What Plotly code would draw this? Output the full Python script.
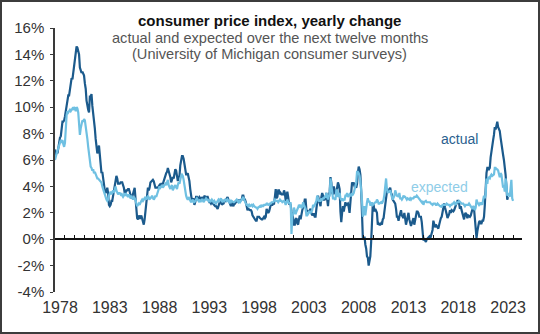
import plotly.graph_objects as go

# Monthly series, starting January 1978 (percent, year-over-year)
start_year = 1978

cpi_actual = [
    6.8, 6.4, 6.6, 6.5, 6.9, 7.4, 7.7, 7.8, 8.3, 8.9, 8.9, 9.0,          # 1978
    9.3, 9.9, 10.1, 10.5, 10.9, 10.9, 11.3, 11.8, 12.2, 12.1, 12.6, 13.3,  # 1979
    13.9, 14.2, 14.6, 14.5, 14.2, 14.0, 13.0, 12.8, 12.6, 12.7, 12.5, 12.4,  # 1980
    11.8, 11.4, 10.5, 10.0, 9.8, 9.6, 10.8, 10.8, 11.0, 10.1, 9.6, 8.9,  # 1981
    8.4, 7.6, 6.8, 6.5, 6.7, 7.1, 6.4, 5.9, 5.0, 5.1, 4.6, 3.8,          # 1982
    3.7, 3.5, 3.6, 3.9, 3.5, 2.6, 2.5, 2.6, 2.9, 2.9, 3.3, 3.8,          # 1983
    4.2, 4.6, 4.8, 4.6, 4.2, 4.2, 4.2, 4.3, 4.3, 4.3, 4.1, 3.9,          # 1984
    3.5, 3.5, 3.7, 3.7, 3.8, 3.8, 3.6, 3.3, 3.1, 3.2, 3.5, 3.8,          # 1985
    3.9, 3.1, 2.2, 1.6, 1.5, 1.8, 1.6, 1.6, 1.8, 1.5, 1.3, 1.1,          # 1986
    1.5, 2.1, 3.0, 3.8, 3.9, 3.7, 3.9, 4.3, 4.4, 4.5, 4.5, 4.4,          # 1987
    4.0, 3.9, 3.9, 3.9, 3.9, 4.0, 4.1, 4.0, 4.2, 4.2, 4.2, 4.4,          # 1988
    4.7, 4.8, 5.0, 5.1, 5.4, 5.2, 5.0, 4.7, 4.3, 4.5, 4.7, 4.6,          # 1989
    5.2, 5.3, 5.2, 4.7, 4.4, 4.7, 4.8, 5.6, 6.2, 6.3, 6.3, 6.1,          # 1990
    5.7, 5.3, 4.9, 4.9, 5.0, 4.7, 4.4, 3.8, 3.4, 2.9, 3.0, 3.1,          # 1991
    2.6, 2.8, 3.2, 3.2, 3.0, 3.1, 3.2, 3.1, 3.0, 3.2, 3.0, 2.9,          # 1992
    3.3, 3.2, 3.1, 3.2, 3.2, 3.0, 2.8, 2.8, 2.7, 2.8, 2.7, 2.7,          # 1993
    2.5, 2.5, 2.5, 2.4, 2.3, 2.5, 2.8, 2.9, 3.0, 2.6, 2.7, 2.7,          # 1994
    2.8, 2.9, 2.9, 3.1, 3.2, 3.0, 2.8, 2.6, 2.5, 2.8, 2.6, 2.5,          # 1995
    2.7, 2.7, 2.8, 2.9, 2.9, 2.8, 3.0, 2.9, 3.0, 3.0, 3.3, 3.3,          # 1996
    3.0, 3.0, 2.8, 2.5, 2.2, 2.3, 2.2, 2.2, 2.2, 2.1, 1.8, 1.7,          # 1997
    1.6, 1.4, 1.4, 1.4, 1.7, 1.7, 1.7, 1.6, 1.5, 1.5, 1.5, 1.6,          # 1998
    1.7, 1.6, 1.7, 2.3, 2.1, 2.0, 2.1, 2.3, 2.6, 2.6, 2.6, 2.7,          # 1999
    2.7, 3.2, 3.8, 3.1, 3.2, 3.7, 3.7, 3.4, 3.5, 3.4, 3.4, 3.4,          # 2000
    3.7, 3.5, 2.9, 3.3, 3.6, 3.2, 2.7, 2.7, 2.6, 2.1, 1.9, 1.6,          # 2001
    1.1, 1.1, 1.5, 1.6, 1.2, 1.1, 1.5, 1.8, 1.5, 2.0, 2.2, 2.4,          # 2002
    2.6, 3.0, 3.0, 2.2, 2.1, 2.1, 2.1, 2.2, 2.3, 2.0, 1.8, 1.9,          # 2003
    1.9, 1.7, 1.7, 2.3, 3.1, 3.3, 3.0, 2.7, 2.5, 3.2, 3.5, 3.3,          # 2004
    3.0, 3.0, 3.1, 3.5, 2.8, 2.5, 3.2, 3.6, 4.7, 4.3, 3.5, 3.4,          # 2005
    4.0, 3.6, 3.4, 3.5, 4.2, 4.3, 4.1, 3.8, 2.1, 1.3, 2.0, 2.5,          # 2006
    2.1, 2.4, 2.8, 2.6, 2.7, 2.7, 2.4, 2.0, 2.8, 3.5, 4.3, 4.1,          # 2007
    4.3, 4.0, 4.0, 3.9, 4.2, 5.0, 5.5, 5.3, 4.9, 3.7, 1.1, 0.1,          # 2008
    0.0, 0.2, -0.4, -0.7, -1.3, -1.4, -2.0, -1.5, -1.3, -0.2, 1.8, 2.7,  # 2009
    2.6, 2.1, 2.3, 2.2, 2.0, 1.1, 1.2, 1.1, 1.1, 1.2, 1.1, 1.5,          # 2010
    1.6, 2.1, 2.7, 3.2, 3.6, 3.6, 3.6, 3.8, 3.9, 3.5, 3.4, 3.0,          # 2011
    2.9, 2.9, 2.7, 2.3, 1.7, 1.7, 1.4, 1.7, 2.0, 2.2, 1.8, 1.7,          # 2012
    1.6, 2.0, 1.5, 1.1, 1.4, 1.8, 2.0, 1.5, 1.2, 1.0, 1.2, 1.5,          # 2013
    1.6, 1.1, 1.5, 2.0, 2.1, 2.1, 2.0, 1.7, 1.7, 1.7, 1.3, 0.8,          # 2014
    -0.1, 0.0, -0.1, -0.2, 0.0, 0.1, 0.2, 0.2, 0.0, 0.2, 0.5, 0.7,       # 2015
    1.4, 1.0, 0.9, 1.1, 1.0, 1.0, 0.8, 1.1, 1.5, 1.6, 1.7, 2.1,          # 2016
    2.5, 2.7, 2.4, 2.2, 1.9, 1.6, 1.7, 1.9, 2.2, 2.0, 2.2, 2.1,          # 2017
    2.1, 2.2, 2.4, 2.5, 2.8, 2.9, 2.9, 2.7, 2.3, 2.5, 2.2, 1.9,          # 2018
    1.6, 1.5, 1.9, 2.0, 1.8, 1.6, 1.8, 1.7, 1.7, 1.8, 2.1, 2.3,          # 2019
    2.5, 2.3, 1.5, 0.3, 0.1, 0.6, 1.0, 1.3, 1.4, 1.2, 1.2, 1.4,          # 2020
    1.4, 1.7, 2.6, 4.2, 5.0, 5.4, 5.4, 5.3, 5.4, 6.2, 6.8, 7.0,          # 2021
    7.5, 7.9, 8.5, 8.3, 8.6, 8.9, 8.5, 8.3, 8.2, 7.7, 7.1, 6.5,          # 2022
    6.4, 6.0, 5.0, 4.9, 4.0, 3.0, 3.2,                                   # 2023
]

expected = [
    6.0, 6.4, 6.5, 6.7, 6.9, 7.0, 7.3, 7.5, 7.4, 7.5, 7.2, 7.0,          # 1978
    7.3, 8.6, 9.4, 9.7, 9.6, 9.7, 9.8, 9.7, 9.8, 9.9, 9.8, 10.0,         # 1979
    9.9, 9.7, 10.0, 9.9, 9.6, 8.3, 7.9, 8.4, 8.8, 9.0, 8.9, 9.1,         # 1980
    9.0, 8.6, 8.3, 7.6, 7.0, 6.4, 5.8, 5.5, 5.4, 5.2, 5.3, 5.0,          # 1981
    5.1, 4.9, 4.7, 4.6, 4.6, 4.5, 4.5, 4.4, 4.3, 4.0, 3.8, 3.5,          # 1982
    3.4, 3.2, 3.0, 2.9, 3.0, 3.3, 3.5, 3.6, 3.4, 3.6, 3.7, 3.5,          # 1983
    3.9, 4.0, 3.7, 3.6, 3.4, 3.5, 3.5, 3.4, 3.5, 3.3, 3.2, 3.3,          # 1984
    3.5, 3.3, 3.4, 3.3, 3.2, 3.4, 3.2, 3.1, 3.3, 3.1, 3.0, 3.2,          # 1985
    3.1, 3.0, 2.7, 2.5, 2.6, 2.7, 2.6, 2.8, 2.9, 3.0, 2.9, 3.0,          # 1986
    3.1, 3.2, 3.0, 3.1, 3.3, 3.1, 3.0, 3.2, 3.1, 3.3, 3.2, 3.0,          # 1987
    3.1, 3.3, 3.2, 3.4, 3.6, 3.8, 4.0, 3.9, 4.0, 4.1, 3.9, 4.0,          # 1988
    4.0, 4.2, 4.1, 4.3, 4.5, 4.1, 3.9, 3.8, 4.0, 4.1, 3.7, 3.9,          # 1989
    4.0, 4.1, 3.9, 3.8, 4.1, 4.3, 4.2, 4.6, 4.8, 4.9, 4.8, 4.5,          # 1990
    4.0, 3.6, 3.3, 3.1, 3.0, 3.2, 3.1, 2.9, 2.8, 2.9, 3.0, 2.8,          # 1991
    2.8, 2.9, 3.0, 3.1, 3.0, 2.9, 2.8, 3.0, 2.9, 3.0, 3.0, 2.8,          # 1992
    2.9, 3.0, 3.1, 3.0, 3.0, 2.9, 3.0, 2.8, 2.9, 3.0, 2.9, 2.8,          # 1993
    2.9, 2.8, 2.7, 2.8, 2.9, 3.0, 2.9, 3.0, 3.1, 2.9, 2.8, 3.0,          # 1994
    2.9, 3.0, 3.0, 2.9, 3.0, 2.9, 2.8, 2.9, 2.8, 2.9, 2.8, 2.8,          # 1995
    2.8, 2.9, 2.9, 3.0, 2.9, 2.8, 2.9, 2.8, 2.9, 3.0, 3.1, 3.2,          # 1996
    3.0, 2.8, 2.7, 2.6, 2.6, 2.5, 2.6, 2.5, 2.6, 2.6, 2.5, 2.6,          # 1997
    2.5, 2.4, 2.4, 2.4, 2.3, 2.4, 2.5, 2.5, 2.4, 2.6, 2.5, 2.5,          # 1998
    2.6, 2.6, 2.6, 2.7, 2.7, 2.6, 2.6, 2.7, 2.7, 2.8, 2.8, 2.8,          # 1999
    2.9, 3.0, 2.9, 2.9, 2.9, 2.8, 2.9, 3.0, 2.9, 2.9, 2.8, 2.9,          # 2000
    2.9, 2.8, 2.6, 2.8, 3.0, 2.8, 2.7, 2.7, 2.8, 0.4, 1.8, 1.9,          # 2001
    2.4, 2.0, 1.9, 2.1, 2.2, 2.4, 2.6, 2.5, 2.6, 2.4, 2.4, 2.8,          # 2002
    2.6, 2.5, 2.3, 1.8, 1.8, 1.9, 2.1, 2.1, 2.0, 2.1, 2.2, 2.6,          # 2003
    2.5, 2.6, 2.8, 2.9, 3.3, 3.1, 2.9, 2.9, 2.9, 3.1, 3.0, 3.1,          # 2004
    3.1, 3.2, 3.2, 3.5, 3.1, 3.0, 3.3, 3.3, 4.6, 4.0, 3.4, 3.1,          # 2005
    3.1, 3.0, 3.0, 3.7, 3.7, 3.2, 3.4, 3.5, 3.1, 3.0, 3.1, 2.9,          # 2006
    3.0, 3.0, 3.3, 3.3, 3.5, 3.2, 3.3, 3.4, 3.3, 3.3, 3.5, 3.4,          # 2007
    3.5, 3.8, 4.1, 4.3, 5.1, 5.1, 5.0, 4.8, 4.4, 3.8, 2.9, 1.7,          # 2008
    2.2, 2.5, 1.8, 2.7, 2.8, 3.1, 2.8, 2.9, 2.6, 2.6, 2.8, 2.6,          # 2009
    2.7, 2.7, 2.8, 2.8, 3.0, 2.9, 2.7, 2.7, 2.8, 2.8, 2.7, 2.8,          # 2010
    3.0, 3.4, 4.0, 4.6, 3.8, 3.5, 3.6, 3.6, 3.7, 3.3, 3.2, 3.0,          # 2011
    3.1, 3.3, 3.7, 3.4, 3.3, 3.3, 3.2, 3.5, 3.1, 3.1, 3.0, 3.1,          # 2012
    3.3, 3.2, 3.2, 3.1, 3.0, 3.1, 3.0, 3.0, 3.1, 3.0, 3.1, 3.1,          # 2013
    3.1, 3.2, 3.2, 3.2, 3.3, 3.2, 3.1, 3.0, 2.9, 2.9, 2.8, 2.9,          # 2014
    2.6, 2.8, 2.9, 2.9, 2.8, 2.8, 2.8, 2.8, 2.8, 2.7, 2.6, 2.6,          # 2015
    2.7, 2.7, 2.7, 2.6, 2.6, 2.7, 2.6, 2.5, 2.5, 2.5, 2.4, 2.6,          # 2016
    2.6, 2.6, 2.6, 2.6, 2.7, 2.6, 2.6, 2.6, 2.5, 2.6, 2.6, 2.7,          # 2017
    2.7, 2.8, 2.7, 2.6, 2.8, 2.8, 2.8, 2.9, 2.8, 2.8, 2.7, 2.7,          # 2018
    2.7, 2.6, 2.5, 2.6, 2.6, 2.6, 2.6, 2.7, 2.6, 2.5, 2.5, 2.3,          # 2019
    2.5, 2.4, 2.2, 2.4, 3.0, 2.8, 2.7, 2.6, 2.7, 2.6, 2.8, 2.6,          # 2020
    3.0, 3.3, 3.1, 3.4, 4.6, 4.2, 4.7, 4.6, 4.6, 4.8, 4.9, 4.8,          # 2021
    4.9, 4.9, 5.4, 5.4, 5.3, 5.3, 5.2, 4.8, 4.7, 5.0, 4.9, 4.4,          # 2022
    3.9, 4.1, 3.6, 4.6, 4.2, 3.3, 3.4, 3.5, 3.2, 4.2, 4.5, 3.1,          # 2023
    2.9,                                                                 # 2024
]

label_years = [1978, 1983, 1988, 1993, 1998, 2003, 2008, 2013, 2018, 2023]
y_ticks = [-4, -2, 0, 2, 4, 6, 8, 10, 12, 14, 16]

DARK = "#1b5a8c"
LIGHT = "#6fc0e2"
AXIS = "#3a3a3a"
FONT = "Liberation Sans, Arial, sans-serif"

x_range = [1978.0, 2024.9]
y_range = [-4, 16]


def month_axis(values):
    return [start_year + i / 12 for i in range(len(values))]


fig = go.Figure()

fig.add_trace(go.Scatter(
    x=month_axis(cpi_actual), y=cpi_actual, mode="lines",
    line=dict(color=DARK, width=2.2), name="actual", hoverinfo="skip",
))
fig.add_trace(go.Scatter(
    x=month_axis(expected), y=expected, mode="lines",
    line=dict(color=LIGHT, width=2.2), name="expected", hoverinfo="skip",
))
# carrier trace for the zero-line axis
fig.add_trace(go.Scatter(
    x=x_range, y=[None, None], xaxis="x2", yaxis="y", mode="lines",
    showlegend=False, hoverinfo="skip",
))

W, H = 540, 334
L, R, T, B = 55, 18, 28, 42

fig.update_layout(
    width=W, height=H,
    margin=dict(l=L, r=R, t=T, b=B, pad=0),
    paper_bgcolor="white", plot_bgcolor="white",
    showlegend=False,
    font=dict(family=FONT, color="#333333"),
    xaxis=dict(
        range=x_range, showgrid=False, zeroline=False, showline=False,
        tickmode="array",
        tickvals=[yr + 0.5 for yr in label_years],
        ticktext=[str(yr) for yr in label_years],
        ticks="", tickfont=dict(size=16, color="#333333"),
        ticklabelstandoff=4,
    ),
    xaxis2=dict(
        range=x_range, overlaying="x", anchor="free",
        position=(0 - y_range[0]) / (y_range[1] - y_range[0]),
        showgrid=False, zeroline=False,
        showline=True, linecolor="#111111", linewidth=1.5,
        tickmode="array",
        tickvals=list(range(1979, 2025)),
        ticks="inside", ticklen=3, tickwidth=1, tickcolor="#111111",
        showticklabels=False,
    ),
    yaxis=dict(
        range=y_range, showgrid=False, zeroline=False,
        showline=True, linecolor=AXIS, linewidth=1.5,
        tickmode="array", tickvals=y_ticks,
        ticktext=[f"{v}%" for v in y_ticks],
        ticks="outside", ticklen=3, tickcolor=AXIS,
        tickfont=dict(size=15, color="#333333"),
        ticklabelstandoff=3,
    ),
)

pw = W - L - R
ph = H - T - B


def px_to_paper_x(px):
    return (px - L) / pw


def px_to_paper_y(py):
    return 1 - (py - T) / ph


cx = px_to_paper_x(269.6)
fig.add_annotation(text="<b>consumer price index, yearly change</b>",
                   x=cx, y=px_to_paper_y(21), xref="paper", yref="paper",
                   showarrow=False, xanchor="center", yanchor="middle",
                   font=dict(size=15, color="#111111", family=FONT))
fig.add_annotation(text="actual and expected over the next twelve months",
                   x=cx, y=px_to_paper_y(37.5), xref="paper", yref="paper",
                   showarrow=False, xanchor="center", yanchor="middle",
                   font=dict(size=14.6, color="#555555", family=FONT))
fig.add_annotation(text="(University of Michigan consumer surveys)",
                   x=cx, y=px_to_paper_y(54), xref="paper", yref="paper",
                   showarrow=False, xanchor="center", yanchor="middle",
                   font=dict(size=14.6, color="#555555", family=FONT))

fig.add_annotation(text="actual", x=2018.67, y=7.6, xref="x", yref="y",
                   showarrow=False, font=dict(size=14, color="#2a5f8f", family=FONT))
fig.add_annotation(text="expected", x=2016.57, y=3.95, xref="x", yref="y",
                   showarrow=False, font=dict(size=14, color="#8fcde8", family=FONT))

# outer frame around the whole figure
fig.add_shape(type="rect", xref="paper", yref="paper",
              x0=px_to_paper_x(1), x1=px_to_paper_x(W - 1),
              y0=px_to_paper_y(H - 1), y1=px_to_paper_y(1),
              line=dict(color="#3c3c3c", width=2), fillcolor="rgba(0,0,0,0)")

fig.write_html("out.html")
